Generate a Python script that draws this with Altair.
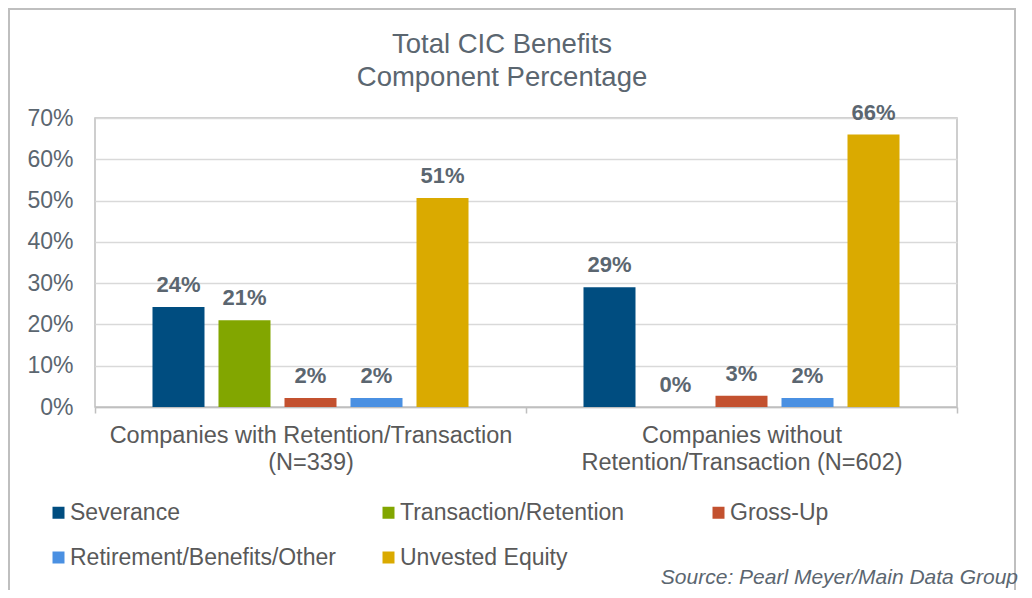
import altair as alt
import pandas as pd

groups = ["Companies with Retention/Transaction|(N=339)",
          "Companies without|Retention/Transaction (N=602)"]
series = ["Severance", "Transaction/Retention", "Gross-Up",
          "Retirement/Benefits/Other", "Unvested Equity"]
with_vals = [0.242, 0.21, 0.022, 0.022, 0.506]
without_vals = [0.29, 0.0, 0.027, 0.022, 0.66]
colors = ["#004D80", "#82A600", "#C3512F", "#4A90E2", "#DAAA00"]
y_ticks = [0, 0.1, 0.2, 0.3, 0.4, 0.5, 0.6, 0.7]
title_lines = ["Total CIC Benefits", "Component Percentage"]
source_text = "Source: Pearl Meyer/Main Data Group"

rows = []
for g, vals in zip(groups, [with_vals, without_vals]):
    for s, v in zip(series, vals):
        rows.append({"group": g, "series": s, "value": v})
df = pd.DataFrame(rows)

FONT = "Liberation Sans"
GREY = "#595959"
BLUEGREY = "#5b6670"

x_enc = alt.X("group:N", sort=groups,
              scale=alt.Scale(paddingInner=0, paddingOuter=0),
              axis=alt.Axis(title=None, labelAngle=0, labelFontSize=23.5, labelFont=FONT,
                            labelColor=GREY, labelLineHeight=27, labelPadding=10,
                            labelExpr="split(datum.label, '|')", labelLimit=600,
                            tickBand="extent", tickSize=6, tickColor="#bfbfbf", tickWidth=1.5,
                            domainColor="#bfbfbf", domainWidth=1.5, grid=False))
xoff_enc = alt.XOffset("series:N", sort=series,
                       scale=alt.Scale(paddingInner=0.212, paddingOuter=0.871))
y_enc = alt.Y("value:Q", scale=alt.Scale(domain=[0, 0.7], nice=False),
              axis=alt.Axis(title=None, values=y_ticks, format=".0%", labelFontSize=23,
                            labelFont=FONT, labelColor=BLUEGREY, labelPadding=22,
                            ticks=False, domain=False, gridColor="#d9d9d9", gridWidth=1.5))

bars = alt.Chart(df).mark_bar().encode(
    x=x_enc, xOffset=xoff_enc, y=y_enc,
    color=alt.Color("series:N", sort=series,
                    scale=alt.Scale(domain=series, range=colors),
                    legend=alt.Legend(title=None, orient="none", legendX=-48, legendY=383,
                                      direction="horizontal", columns=3, gridAlign="all",
                                      columnPadding=41, rowPadding=21, symbolType="square",
                                      symbolSize=144, symbolStrokeWidth=0, labelOffset=0,
                                      labelFontSize=23, labelFont=FONT, labelColor=GREY,
                                      labelLimit=400, padding=0))
)

labels = alt.Chart(df).mark_text(fontSize=22, fontWeight="bold", font=FONT, color=BLUEGREY,
                                 baseline="middle", dy=-22).encode(
    x=alt.X("group:N", sort=groups), xOffset=alt.XOffset("series:N", sort=series),
    y="value:Q", text=alt.Text("value:Q", format=".0%"))

note = pd.DataFrame({"t": [source_text]})
source = alt.Chart(note).mark_text(fontSize=21, fontStyle="italic", font=FONT, color=BLUEGREY,
                                   align="right", baseline="middle").encode(
    x=alt.value(923), y=alt.value(460), text="t:N")

title = alt.Chart(pd.DataFrame({"a": [0]})).mark_text(
    text=title_lines, fontSize=27.5, font=FONT, color=BLUEGREY, align="center",
    baseline="alphabetic", lineHeight=33).encode(
    x=alt.value(407), y=alt.value(-65))

frame = alt.Chart(pd.DataFrame({"a": [0]})).mark_rect(
    fill="transparent", stroke="#bfbfbf", strokeWidth=2).encode(
    x=alt.value(-86), x2=alt.value(920), y=alt.value(-109), y2=alt.value(520))

chart = alt.layer(frame, title, bars, labels, source).properties(
    width=862, height=289,
    autosize=alt.AutoSizeParams(type="none"),
    padding={"left": 87, "top": 110, "right": 67, "bottom": 183},
).configure_view(stroke="#bfbfbf", strokeWidth=1.5)

chart.save("out.html", embed_options={"renderer": "svg", "actions": False})
